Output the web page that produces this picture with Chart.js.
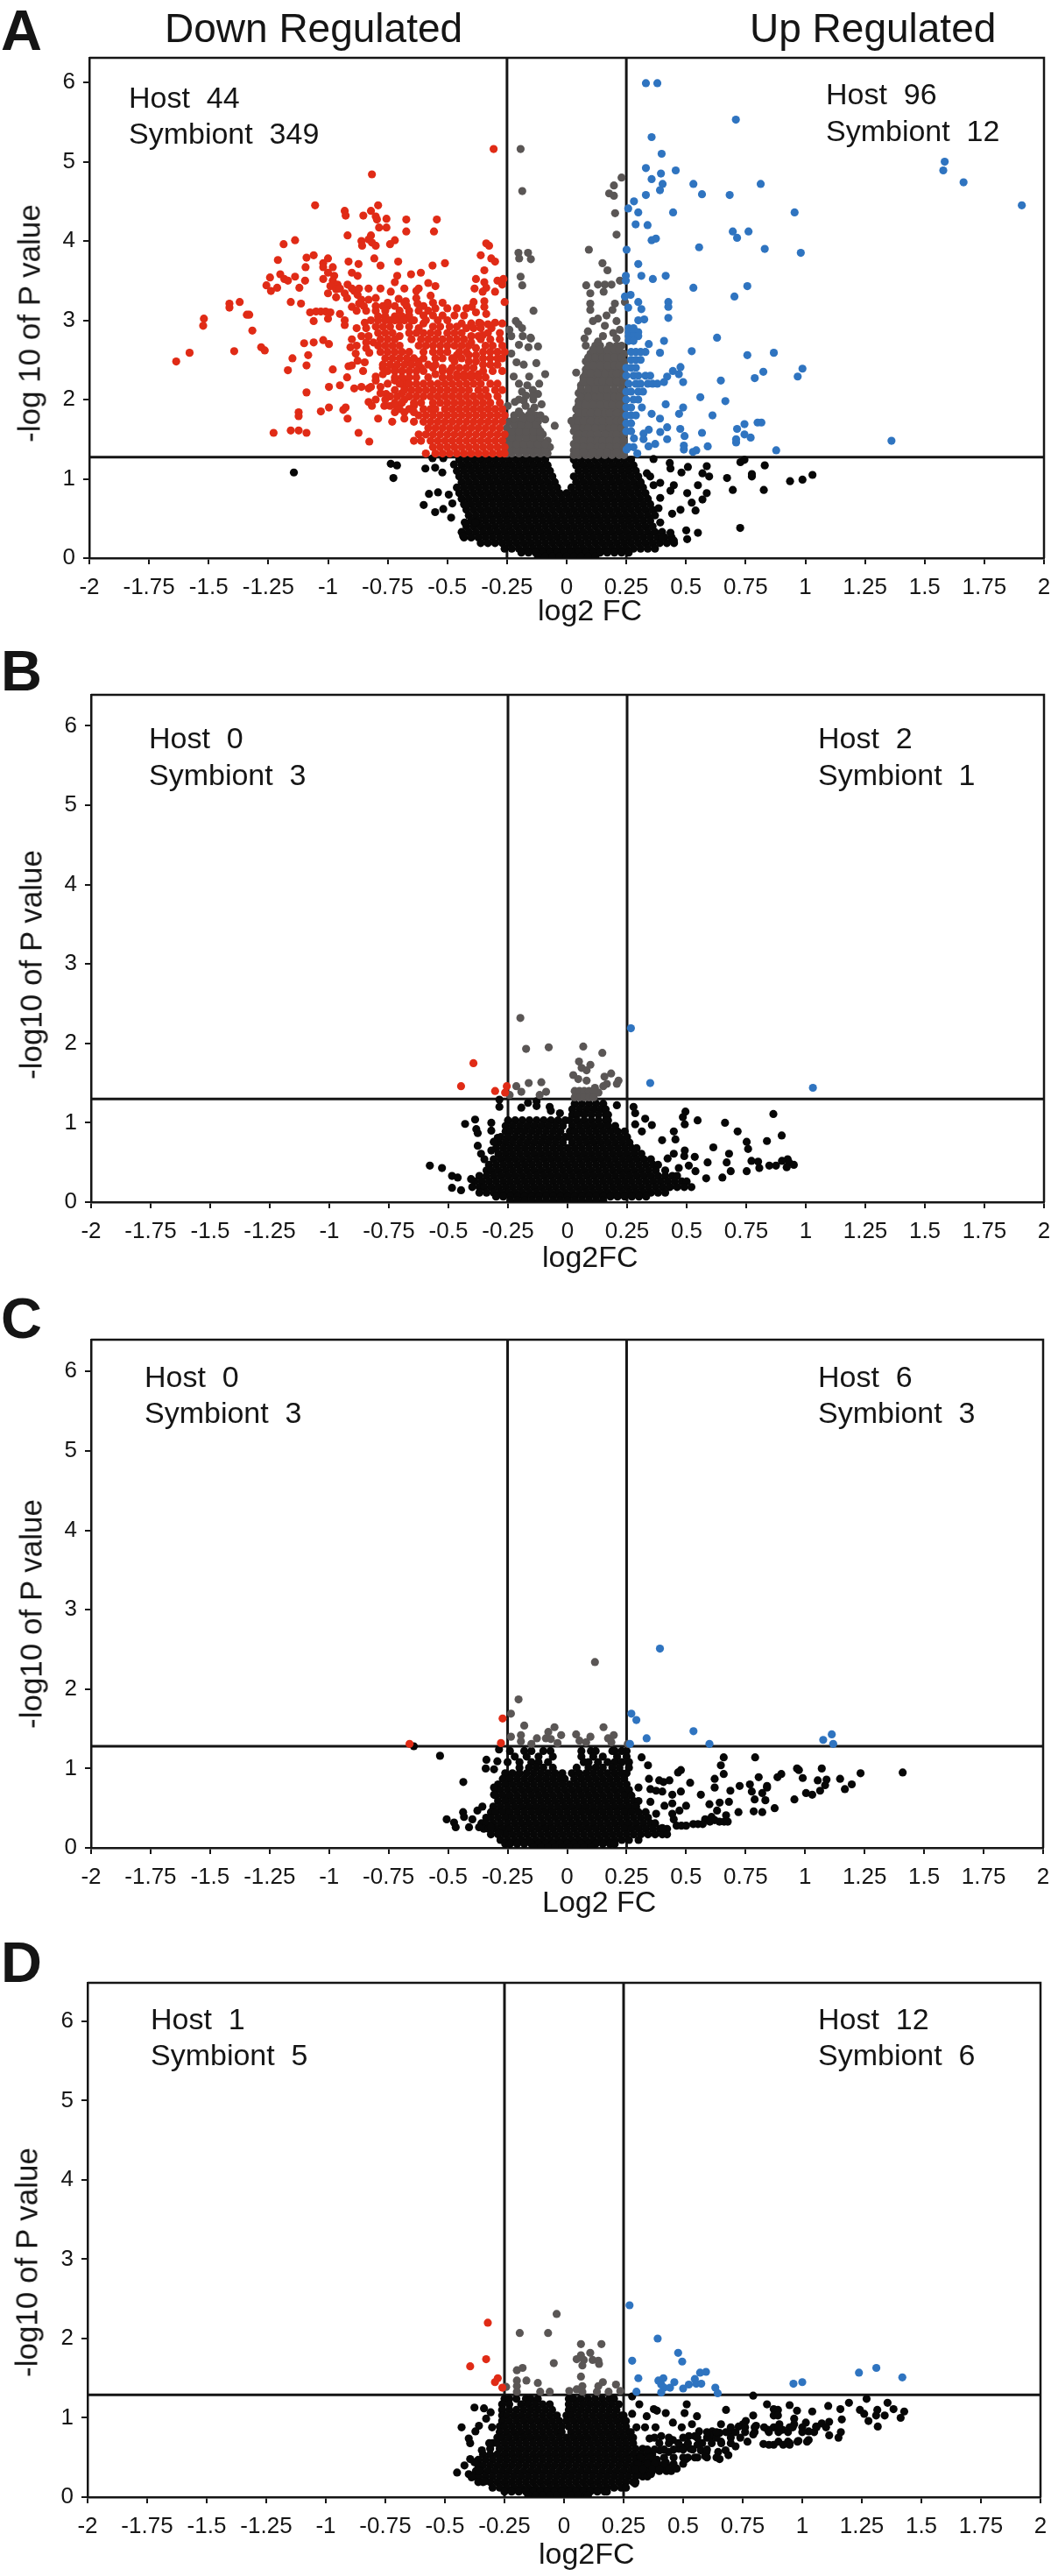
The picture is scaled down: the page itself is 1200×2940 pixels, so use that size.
<!DOCTYPE html>
<html lang="en">
<head>
<meta charset="UTF-8" />
<title>Volcano plots</title>
<script src="https://cdn.jsdelivr.net/npm/chart.js@4"></script>
<style>
  html, body { margin: 0; background: #fff; }
  #page { position: relative; width: 1200px; height: 2940px; overflow: hidden; font-family: "Liberation Sans", sans-serif; color: #151515; }
  #page canvas { position: absolute; left: 0; }
  .txt { position: absolute; line-height: 1; white-space: pre; }
</style>
</head>
<body>
<div id="page"></div>
<script>
// every row is [-log10 P, log2 FC, log2 FC, ...].
// the solid black/grey/red areas can't be read dot by dot, those rows are estimates.
const xTicks = [-2, -1.75, -1.5, -1.25, -1, -0.75, -0.5, -0.25, 0, 0.25, 0.5, 0.75, 1, 1.25, 1.5, 1.75, 2];
const yTicks = [0, 1, 2, 3, 4, 5, 6];
const foldCut = [-0.25, 0.25];

const aRed = [
[5.16,-.306],[4.84,-.816],[4.45,-1.054,-.79],[4.38,-.93,-.82],[4.32,-.852,-.926],[4.31,-.8],[4.28,-.755],[4.27,-.795,-.672,-.544],
[4.17,-.786,-.755],[4.12,-.672,-.556],[4.07,-.918,-.82],[4.02,-.83],[4.01,-.72,-1.138],[4,-.86],[3.98,-.816],[3.96,-.74,-1.186],[3.94,-.8,-.857,-.325],[3.97,-.337],
[3.82,-.36,-1.06],[3.79,-1.09],[3.78,-.316,-1,-.806],[3.76,-1.21],[3.74,-.3,-.914,-.706],[3.72,-1.02,-.51],[3.71,-.872],[3.69,-.78,-.562],[3.67,-1.094,-1.02,-.98],[3.63,-.345],
[3.6,-1,-.9,-.611],[3.58,-1.2,-.652],[3.56,-.974,-.876,-.71],[3.55,-1.138],[3.54,-1.243],[3.52,-1.183,-1.02,-.38,-.265],[3.5,-1.168,-1.096,-.98,-.29],[3.48,-.72,-.345],[3.47,-.58],
[3.45,-.96,-.27,-.918],[3.44,-1.258],[3.43,-.99,-.55],[3.41,-1.213,-1.12,-.337],[3.4,-.386],[3.39,-.966],[3.37,-1.239,-.89,-.63],[3.36,-.737,-.352,-.3],[3.34,-.93,-1],
[3.32,-.876],[3.31,-.57],[3.29,-.966],[3.28,-.92,-.8,-.63],[3.27,-.704],[3.26,-.86,-.83],[3.24,-.674,-.345],[3.23,-.26,-.39,-1.37,-1.156],[3.21,-.87,-.625,-1.413,-1.113],
[3.17,-.397,-.345,-.9],[3.16,-1.413],[3.11,-1.05,-1.03,-1.01],[3.1,-1.075,-.99,-.38],[3.08,-.95,-.337],[3.07,-1.34,-1.33],[3.02,-1.52,-1],[3,-.93,-.74,-.7,-.65],[2.99,-1.06],
[2.97,-.846,-.367,-.3],[2.95,-.33],[2.94,-.93],[2.93,-1.523],[2.9,-.315],[2.87,-1.317],[2.81,-.352],
[2.75,-1.02],[2.72,-1.06],[2.71,-1.1],[2.7,-.996],[2.66,-1.28,-.906],[2.62,-1.265],[2.61,-1.393],[2.59,-1.58,-.827],[2.58,-.884],[2.56,-1.083],[2.52,-1.149],[2.49,-.876],[2.48,-1.636],
[2.47,-.846],[2.43,-1.09,-.9],[2.42,-.914],[2.4,-.77],[2.38,-.98],[2.37,-1.168],[2.36,-.853],[2.29,-.8],[2.28,-.92],[2.18,-.95],[2.16,-.996,-.86],[2.14,-.89,-.83],[2.09,-1.09],
[2.07,-.756],[1.97,-.83],[1.92,-.816,-.764],[1.9,-.996,-.926,-.71],[1.87,-.936],[1.85,-1.03],[1.84,-1.123],[1.79,-1.123],[1.76,-.918,-.79,-.68],[1.72,-.731],[1.61,-1.156,-1.123],
[1.58,-1.228,-1.09,-.872],[1.47,-.827],
[3.4,-.95,-.9,-.87,-.83,-.78,-.68,-.62],[3.18,-.85,-.8,-.77,-.75,-.72,-.67,-.6],[3.12,-.88,-.84,-.8,-.76,-.7,-.66,-.62,-.58],
[3.22,-.75,-.68,-.56,-.52],[3.15,-.55,-.5,-.46,-.42],[3.06,-.66,-.6,-.56,-.52,-.47,-.43],[2.96,-.6,-.44,-.4,-.36,-.27],[2.9,-.88,-.84,-.62,-.42,-.39,-.36],[2.8,-.86,-.83,-.7,-.4,-.37],[2.72,-.84,-.81,-.4],[2.65,-.84,-.38],
[2.56,-.46,-.41,-.38],[2.48,-.47,-.41,-.38,-.66,-.62],[2.4,-.52,-.48,-.45,-.42,-.39,-.72,-.61,-.56],[2.32,-.77,-.55,-.46,-.43,-.4,-.37],[2.24,-.8,-.72,-.68],[2.16,-.78,-.68,-.82],[2.08,-.78,-.69],[2,-.8,-.76,-.68],[1.92,-.74,-.64],[1.84,-.72,-.68,-.64],
[3.05,-.79,-.76,-.72,-.69],
[3,-.82,-.79,-.76,-.72,-.68,-.64,-.59,-.54,-.5],
[2.92,-.8,-.77,-.74,-.7,-.66,-.56,-.53,-.49,-.46],
[2.84,-.79,-.76,-.73,-.66,-.63,-.6,-.57,-.54,-.5,-.47,-.44,-.33,-.28],
[2.76,-.9,-.78,-.75,-.72,-.65,-.61,-.58,-.55,-.52,-.49,-.46,-.43,-.36,-.32,-.28],
[2.68,-.88,-.79,-.76,-.73,-.7,-.62,-.59,-.56,-.53,-.5,-.47,-.44,-.41,-.34,-.31,-.27],
[2.6,-.78,-.75,-.72,-.69,-.66,-.6,-.56,-.53,-.5,-.45,-.42,-.35,-.32,-.29,-.26],
[2.52,-.76,-.73,-.7,-.67,-.64,-.6,-.55,-.52,-.48,-.44,-.35,-.32,-.29,-.27],
[2.44,-.77,-.74,-.71,-.68,-.65,-.62,-.58,-.55,-.35,-.32,-.29],
[2.36,-.75,-.72,-.69,-.66,-.63,-.6,-.52,-.49,-.35,-.31,-.27],
[2.28,-.72,-.69,-.66,-.63,-.58,-.52,-.49,-.46,-.43,-.4,-.37,-.34],
[2.2,-.75,-.7,-.66,-.63,-.6,-.57,-.54,-.51,-.48,-.45,-.42,-.39,-.36,-.32,-.29],
[2.12,-.72,-.68,-.65,-.62,-.59,-.56,-.53,-.5,-.47,-.44,-.41,-.37,-.34,-.3,-.27],
[2.04,-.74,-.71,-.66,-.63,-.6,-.57,-.54,-.51,-.48,-.45,-.42,-.39,-.36,-.33,-.29],
[1.96,-.72,-.69,-.64,-.61,-.56,-.53,-.5,-.47,-.44,-.41,-.38,-.35,-.32,-.28],
[1.88,-.7,-.66,-.6,-.57,-.55,-.51,-.48,-.45,-.42,-.39,-.36,-.33,-.3,-.27],
[1.8,-.62,-.59,-.56,-.53,-.5,-.47,-.44,-.41,-.38,-.35,-.32,-.29,-.26],
[1.72,-.64,-.6,-.57,-.54,-.51,-.48,-.45,-.42,-.39,-.36,-.33,-.3,-.27],
[1.64,-.58,-.55,-.52,-.49,-.46,-.43,-.4,-.37,-.34,-.31,-.28],
[1.56,-.62,-.59,-.56,-.53,-.5,-.47,-.44,-.41,-.38,-.35,-.32,-.29,-.26],
[1.48,-.64,-.61,-.57,-.54,-.51,-.48,-.45,-.42,-.39,-.36,-.33,-.3,-.27],
[1.4,-.56,-.53,-.5,-.47,-.44,-.41,-.38,-.35,-.32,-.29,-.26],
[1.32,-.59,-.55,-.52,-.49,-.46,-.43,-.4,-.37,-.34,-.31,-.28,-.26]
];
const aGrey = [
[5.16,-.193],[4.63,-.186],[3.85,-.202,-.162],[3.78,-.199],[3.77,-.15],[3.55,-.193],[3.44,-.186],[3.12,-.139],[2.99,-.213],[2.95,-.202],[2.9,-.187],[2.88,-.24],[2.8,-.232,-.184],[2.78,-.151],[2.77,-.15],
[2.69,-.2],[2.67,-.12],[2.66,-.16],[2.58,-.232],[2.47,-.21],[2.46,-.127],[2.44,-.18],[2.32,-.09],[2.29,-.222,-.157],[2.2,-.115,-.2],[2.18,-.165],[2.12,-.142],[2.1,-.187],[2.07,-.12],[1.99,-.18],
[1.97,-.217],[1.94,-.105],[1.92,-.247,-.172],[1.9,-.135],[1.75,-.09],[1.67,-.05],
[1.8,-.22,-.19,-.16,-.13,-.11],[1.72,-.24,-.2,-.17,-.14,-.12],[1.64,-.25,-.21,-.18,-.15,-.12],[1.56,-.24,-.22,-.19,-.16,-.13,-.1],
[1.48,-.25,-.22,-.2,-.17,-.14,-.11,-.08],[1.4,-.25,-.22,-.19,-.16,-.13,-.1,-.07],[1.32,-.25,-.23,-.2,-.17,-.14,-.11,-.08],
[1.36,-.24,-.21,-.18,-.15,-.12,-.09],[1.44,-.24,-.21,-.18,-.15,-.12,-.09],[1.52,-.23,-.2,-.17,-.14,-.11],[1.6,-.23,-.2,-.17,-.14,-.11],[1.68,-.22,-.19,-.16,-.13],[1.76,-.22,-.18,-.15],[1.85,-.2,-.15],[2,-.2,-.14],[2.05,-.17,-.14],
[4.8,.23],[4.7,.198],[4.6,.178],[4.57,.198],[4.35,.203],[4.08,.209],[3.89,.093],[3.72,.15],[3.63,.171],[3.5,.223],[3.45,.131,.16,.188],[3.44,.082],[3.36,.155],[3.34,.099],[3.23,.244],[3.21,.099,.202],
[3.13,.099,.192],[3.06,.167],[3.02,.131],[2.99,.11,.209],[2.93,.16],[2.88,.223],[2.86,.089],[2.84,.195],[2.8,.152],[2.77,.075,.209],[2.73,.131],
[2.68,.08,.12,.14,.18,.21,.23],[2.58,.1,.13,.15,.18,.21,.24],[2.48,.08,.1,.13,.16,.19,.22,.24],[2.38,.08,.1,.12,.15,.18,.2,.23],
[2.28,.07,.09,.11,.14,.17,.2,.22,.24],[2.18,.06,.09,.11,.14,.17,.2,.23],[2.08,.05,.08,.1,.13,.16,.19,.22,.24],[1.98,.05,.07,.1,.13,.16,.19,.21,.24],
[1.88,.04,.07,.09,.12,.15,.18,.2,.23],[1.78,.04,.06,.09,.12,.14,.17,.2,.23],[1.68,.03,.05,.08,.11,.14,.17,.19,.22,.24],[1.6,.03,.05,.08,.1,.13,.16,.19,.21,.24],
[1.52,.04,.07,.09,.12,.15,.18,.2,.23],[1.44,.03,.05,.08,.11,.14,.17,.19,.22],[1.36,.03,.06,.09,.12,.15,.18,.2,.23],[1.3,.03,.05,.08,.1,.13,.16,.19,.22,.24],
[2.63,.11,.14,.17,.2,.22],[2.53,.09,.12,.15,.17,.2,.23],[2.43,.09,.11,.14,.17,.2,.22],[2.33,.08,.1,.13,.16,.19,.21,.24],[2.23,.07,.1,.13,.15,.18,.21,.24],[2.13,.06,.09,.12,.15,.17,.2,.23],[2.03,.06,.09,.12,.14,.17,.2,.22],
[1.93,.05,.08,.11,.14,.17,.19,.22],[1.83,.05,.08,.1,.13,.16,.18,.21,.24],[1.73,.05,.07,.1,.13,.15,.18,.21,.23],[1.64,.04,.07,.09,.12,.15,.18,.2,.23],[1.56,.05,.08,.1,.13,.16,.19,.21,.24],[1.48,.05,.07,.1,.13,.15,.18,.21,.24],[1.4,.04,.07,.1,.13,.15,.18,.21,.24],[1.34,.04,.07,.11,.14,.17,.21],
[2.34,.04],[1.73,.02]
];
const aBlue = [
[5.99,.332,.38],[5.53,.709],[5.31,.356],[5.1,.398],[5,1.584],[4.92,.332],[4.89,.457,1.578],[4.85,.395],[4.78,.356],[4.74,1.663],[4.72,.402,.531,.813],[4.64,.391],[4.59,.567],[4.58,.332,.683],[4.5,.282],
[4.45,1.907],[4.41,.258],[4.36,.3,.446,.955],[4.21,.289],[4.2,.339],[4.12,.696,.762],[4.04,.714],[4.03,.374],[4.01,.356],[3.92,.555],[3.9,.83],[3.89,.251],[3.85,.981],[3.71,.3],[3.56,.248,.313,.415],
[3.52,.361],[3.5,.248],[3.43,.757],[3.41,.531],[3.32,.268],[3.3,.703,.244],[3.23,.3,.426],[3.17,.426],[3.16,.258],[3.14,.313],[3.03,.426],[3.01,.325],[3,.3],
[2.9,.26,.28],[2.85,.26,.28,.3],[2.8,.26,.28,.3],[2.78,.63],[2.74,.408,.26,.28],[2.7,.344],[2.61,.524],[2.59,.391,.868],[2.56,.757],[2.39,.988],[2.41,.477],[2.36,.445],[2.35,.824],
[2.32,.47],[2.29,.421,.968],[2.27,.788],[2.24,.646],[2.22,.408,.488],[2.03,.56],[1.98,.665],[1.94,.415],[1.9,.488,.315],[1.82,.471,.356],[1.8,.611],[1.76,.391],[1.71,.816,.8],[1.69,.745],
[1.65,.421],[1.63,.714,.476],[1.62,.344],[1.59,.392],[1.58,.567],[1.57,.322],[1.56,.745],[1.54,.494],[1.52,.771],[1.51,.282],[1.5,.322,.421,.71],[1.48,1.361],[1.46,.71],[1.44,.371],[1.42,.491],
[1.41,.591,.343],[1.37,.491,.251],[1.36,.543,.878],[1.34,.529],[1.32,.296],
[2.6,.27,.29,.31,.33],[2.5,.27,.29,.31],[2.4,.25,.27,.29],[2.3,.25,.28,.3,.33,.35],[2.2,.26,.29,.31,.34,.36,.38],[2.1,.25,.27,.3,.32],[2,.25,.28,.3],[1.9,.25,.27],[1.8,.25,.27,.29],[1.7,.25,.27],[1.6,.25,.27],[1.4,.26,.28]
];
const aBlack = [
[1.24,-.45,-.42,-.39,-.36,-.33,-.3,-.27,-.24,-.21,-.18,-.15,-.12,-.09,.03,.06,.09,.12,.15,.18,.21,.24,.27],
[1.17,-.44,-.41,-.38,-.35,-.32,-.29,-.26,-.23,-.2,-.17,-.14,-.11,-.08,.04,.07,.1,.13,.16,.19,.22,.25,.28],
[1.1,-.46,-.43,-.4,-.37,-.34,-.31,-.28,-.25,-.22,-.19,-.16,-.13,-.1,-.07,.05,.08,.11,.14,.17,.2,.23,.26,.29],
[1.03,-.45,-.42,-.39,-.36,-.33,-.3,-.27,-.24,-.21,-.18,-.15,-.12,-.09,-.06,.03,.06,.09,.12,.15,.18,.21,.24,.27,.3],
[.96,-.44,-.41,-.38,-.35,-.32,-.29,-.26,-.23,-.2,-.17,-.14,-.11,-.08,-.05,.04,.07,.1,.13,.16,.19,.22,.25,.28,.31],
[.89,-.46,-.43,-.4,-.37,-.34,-.31,-.28,-.25,-.22,-.19,-.16,-.13,-.1,-.07,-.04,.02,.05,.08,.11,.14,.17,.2,.23,.26,.29,.32],
[.82,-.45,-.42,-.39,-.36,-.33,-.3,-.27,-.24,-.21,-.18,-.15,-.12,-.09,-.06,-.03,0,.03,.06,.09,.12,.15,.18,.21,.24,.27,.3,.33],
[.75,-.44,-.41,-.38,-.35,-.32,-.29,-.26,-.23,-.2,-.17,-.14,-.11,-.08,-.05,-.02,.01,.04,.07,.1,.13,.16,.19,.22,.25,.28,.31,.34],
[.68,-.43,-.4,-.37,-.34,-.31,-.28,-.25,-.22,-.19,-.16,-.13,-.1,-.07,-.04,-.01,.02,.05,.08,.11,.14,.17,.2,.23,.26,.29,.32,.35],
[.61,-.42,-.39,-.36,-.33,-.3,-.27,-.24,-.21,-.18,-.15,-.12,-.09,-.06,-.03,0,.03,.06,.09,.12,.15,.18,.21,.24,.27,.3,.33,.36],
[.54,-.41,-.38,-.35,-.32,-.29,-.26,-.23,-.2,-.17,-.14,-.11,-.08,-.05,-.02,.01,.04,.07,.1,.13,.16,.19,.22,.25,.28,.31,.34,.37],
[.47,-.4,-.37,-.34,-.31,-.28,-.25,-.22,-.19,-.16,-.13,-.1,-.07,-.04,-.01,.02,.05,.08,.11,.14,.17,.2,.23,.26,.29,.32,.35],
[.4,-.42,-.39,-.36,-.33,-.3,-.27,-.24,-.21,-.18,-.15,-.12,-.09,-.06,-.03,0,.03,.06,.09,.12,.15,.18,.21,.24,.27,.3,.33,.36],
[.33,-.44,-.41,-.38,-.35,-.32,-.29,-.26,-.23,-.2,-.17,-.14,-.11,-.08,-.05,-.02,.01,.04,.07,.1,.13,.16,.19,.22,.25,.28,.31,.34,.37,.4],
[.26,-.43,-.4,-.37,-.34,-.31,-.28,-.25,-.22,-.19,-.16,-.13,-.1,-.07,-.04,-.01,.02,.05,.08,.11,.14,.17,.2,.23,.26,.29,.32,.35,.38,.41,.44],
[.19,-.36,-.33,-.3,-.27,-.24,-.21,-.18,-.15,-.12,-.09,-.06,-.03,0,.03,.06,.09,.12,.15,.18,.21,.24,.27,.3,.33,.36,.39,.42,.45],
[.12,-.26,-.23,-.2,-.17,-.14,-.11,-.08,-.05,-.02,.01,.04,.07,.1,.13,.16,.19,.22,.25,.28,.31,.34,.37],
[.07,-.19,-.16,-.13,-.1,-.07,-.04,-.01,.02,.05,.08,.11,.14,.17,.2,.23,.26],
[.02,-.12,-.09,-.06,-.03,0,.03,.06,.09,.12],
[1.08,-1.143,-.521,.481],[1.19,-.737],[1.17,-.711,.83],[1.01,-.726,.672],[1.13,-.592,.435],[1.14,-.551],[.81,-.577],[.83,-.539],[.8,-.494],[.67,-.599,-.427],[.58,-.551],[.62,-.517],[.51,-.484],[.69,-.479],
[.28,-.434],[.45,-.427,-.382,.392],[1.26,-.562,-.517],[1.18,-.472],[1.25,.364],[1.2,.432],[1.15,.508],[1.16,.587],[1.07,.569,.336],[1.03,.597,.776,.35],[1.21,.728],[1.24,.745],[1.06,.776],[.97,.936],
[.99,.988],[1.05,1.03],[.86,.826,.696],[.82,.587,.505],[.92,.55,.449,.364],[.85,.435],[.95,.392],[.74,.569],[.7,.524],[.76,.392],[.6,.54],[.61,.477],[.56,.442],[.63,.385],[.38,.727],[.32,.55,.435],
[.35,.501],[.24,.505],[.22,.449],[.94,.308],[.26,.4]
];

const bRed = [[1.75,-.395],[1.46,-.447,-.255],[1.4,-.304],[1.38,-.262]];
const bGrey = [
[2.32,-.198],[1.93,-.174],[1.95,-.079],[1.96,.066],[1.88,.146],[1.77,.048],[1.73,.096],[1.69,.059],[1.66,.08],[1.62,.183],[1.58,.155],[1.6,.024],[1.55,.045],[1.53,.08,.214],[1.49,.207,.165],
[1.46,.15,-.215],[1.44,.115],[1.38,.13],[1.39,-.194,-.09],[1.5,-.163],[1.51,-.11],[1.35,-.117,-.243],[1.4,.03,.05,.07,.09,.11],[1.32,.03,.05,.07,.09,.11]
];
const bBlue = [[2.19,.266],[1.5,.347],[1.44,1.03]];
const bBlack = [
[1.24,.03,.06,.09,.12,.15],[1.17,.02,.05,.08,.11,.14,.16],[1.1,.02,.04,.07,.1,.13,.16,.17],
[1.03,-.25,-.22,-.19,-.16,-.13,-.1,-.07,-.04,-.01,.01,.04,.07,.1,.13,.16,.17],
[.96,-.26,-.23,-.2,-.17,-.14,-.11,-.08,-.05,-.02,.02,.05,.08,.11,.14,.17,.2],
[.89,-.26,-.24,-.21,-.18,-.15,-.12,-.09,-.06,-.03,.01,.03,.06,.09,.12,.15,.18,.21,.24],
[.82,-.28,-.25,-.22,-.19,-.16,-.13,-.1,-.07,-.04,-.01,.01,.04,.07,.1,.13,.16,.19,.22,.25],
[.75,-.29,-.26,-.23,-.2,-.17,-.14,-.11,-.08,-.05,-.02,.02,.05,.08,.11,.14,.17,.2,.23,.26],
[.68,-.3,-.27,-.24,-.21,-.18,-.15,-.12,-.09,-.06,-.03,0,.03,.06,.09,.12,.15,.18,.21,.24,.27,.29],
[.61,-.29,-.26,-.23,-.2,-.17,-.14,-.11,-.08,-.05,-.02,.01,.04,.07,.1,.13,.16,.19,.22,.25,.28,.31],
[.54,-.31,-.28,-.25,-.22,-.19,-.16,-.13,-.1,-.07,-.04,-.01,.02,.05,.08,.11,.14,.17,.2,.23,.26,.29,.32,.35],
[.47,-.33,-.3,-.27,-.24,-.21,-.18,-.15,-.12,-.09,-.06,-.03,0,.03,.06,.09,.12,.15,.18,.21,.24,.27,.3,.33,.36,.38],
[.4,-.34,-.32,-.29,-.26,-.23,-.2,-.17,-.14,-.11,-.08,-.05,-.02,.01,.04,.07,.1,.13,.16,.19,.22,.25,.28,.31,.34,.37,.41],
[.33,-.37,-.34,-.31,-.28,-.25,-.22,-.19,-.16,-.13,-.1,-.07,-.04,-.01,.02,.05,.08,.11,.14,.17,.2,.23,.26,.29,.32,.35,.38,.41,.44,.46],
[.26,-.39,-.36,-.33,-.3,-.27,-.24,-.21,-.18,-.15,-.12,-.09,-.06,-.03,0,.03,.06,.09,.12,.15,.18,.21,.24,.27,.3,.33,.36,.39,.42,.45,.48,.5],
[.19,-.4,-.37,-.35,-.32,-.29,-.26,-.23,-.2,-.17,-.14,-.11,-.08,-.05,-.02,.01,.04,.07,.1,.13,.16,.19,.22,.25,.28,.31,.34,.37,.4,.43,.46,.49,.52],
[.12,-.37,-.34,-.31,-.28,-.25,-.22,-.19,-.16,-.13,-.1,-.07,-.04,-.01,.02,.05,.08,.11,.14,.17,.2,.23,.26,.29,.32,.35,.38,.41],
[.07,-.3,-.27,-.24,-.21,-.18,-.15,-.12,-.09,-.06,-.03,0,.03,.06,.09,.12,.15,.18,.21,.24,.27,.3,.33],
[.02,-.24,-.21,-.18,-.15,-.12,-.09,-.06,-.03,0,.03,.06,.09,.12,.15],
[.46,-.578,.509,.847,.875],[.43,-.527,.805],[.33,-.485],[.31,-.461,.65],[.18,-.485],[.15,-.447],[.29,-.405],[.985,-.43],[1.04,-.388],[.92,-.383],[.87,-.377],[.71,-.377],[.61,-.363,.678,.446],[.54,-.349,.924],
[1,-.32],[.9,-.32],[.81,-.293],[.76,-.31],[.65,-.32,.492],[1.2,-.286,.277],[1.29,-.286],[1.19,-.194],[1.25,-.166],[1.27,-.13],[1.21,-.13],[1.2,-.075],[1.12,-.032,.284],[1.15,-.07],
[1.22,.207],[1.05,.326],[.97,.354],[.98,.284,.492],[.89,.312,.446,.714],[.78,.397],[.79,.453],[1.14,.495],[1.07,.484],[1.03,.546],[1,.661],[1.11,.864],[.84,.899],[.77,.837],[.76,.752],[.67,.758],[.69,.612],
[.5,.668,.588,.93],[.39,.685,.752,.537],[.52,.772],[.51,.8],[.57,.534],[.58,.49],[.55,.42],[.3,.582],[.43,.467],[.52,.9],[.44,.92],[.47,.95]
];

const cRed = [[1.31,-.662],[1.63,-.271],[1.32,-.278]];
const cGrey = [
[2.34,.117],[1.87,-.204],[1.69,-.236],[1.54,-.18],[1.52,-.053,.153],[1.4,-.236],[1.42,-.194,-.025,.196],[1.34,-.194],[1.31,-.15,.255],[1.38,-.127,-.089,.172],[1.46,-.079],[1.37,-.068],[1.32,-.04],
[1.43,.038],[1.35,.052],[1.33,.08,.186],[1.4,.098]
];
const cBlue = [[2.51,.39],[1.69,.27],[1.61,.291],[1.38,.334],[1.31,.264,.598,1.118],[1.47,.531],[1.36,1.076],[1.43,1.112]];
const cBlack = [
[1.22,-.24,-.18,-.15,-.1,-.07,.06,.1,.12,.19,.2,.23,.25],[1.15,-.22,-.17,-.12,-.06,.06,.11,.15,.21,.25],[1.08,-.25,-.2,-.15,-.12,-.08,.07,.09,.13,.17,.2,.23,.26],[1.01,-.2,-.16,-.13,-.1,-.06,.04,.09,.12,.15,.19,.22,.26],
[.94,-.26,-.23,-.2,-.17,-.14,-.11,-.08,-.05,-.02,.02,.05,.08,.11,.14,.17,.2,.23,.25],
[.87,-.27,-.24,-.21,-.18,-.15,-.12,-.09,-.06,-.03,-.01,.03,.06,.09,.12,.15,.18,.21,.24],
[.8,-.29,-.26,-.23,-.2,-.17,-.14,-.11,-.08,-.05,-.02,.01,.04,.07,.1,.13,.16,.19,.22,.25],
[.73,-.3,-.28,-.25,-.22,-.19,-.16,-.13,-.1,-.07,-.04,-.01,.02,.05,.08,.11,.14,.17,.2,.23,.26],
[.66,-.3,-.27,-.24,-.21,-.18,-.15,-.12,-.09,-.06,-.03,0,.03,.06,.09,.12,.15,.18,.21,.24,.27],
[.59,-.29,-.26,-.23,-.2,-.17,-.14,-.11,-.08,-.05,-.02,.01,.04,.07,.1,.13,.16,.19,.22,.25,.28,.3],
[.52,-.31,-.28,-.25,-.22,-.19,-.16,-.13,-.1,-.07,-.04,-.01,.02,.05,.08,.11,.14,.17,.2,.23,.26,.29],
[.45,-.32,-.3,-.27,-.24,-.21,-.18,-.15,-.12,-.09,-.06,-.03,0,.03,.06,.09,.12,.15,.18,.21,.24,.27,.3,.33],
[.38,-.34,-.32,-.29,-.26,-.23,-.2,-.17,-.14,-.11,-.08,-.05,-.02,.01,.04,.07,.1,.13,.16,.19,.22,.25,.28,.31,.34],
[.31,-.36,-.34,-.31,-.28,-.25,-.22,-.19,-.16,-.13,-.1,-.07,-.04,-.01,.02,.05,.08,.11,.14,.17,.2,.23,.26,.29,.32,.35,.37],
[.24,-.35,-.33,-.3,-.27,-.24,-.21,-.18,-.15,-.12,-.09,-.06,-.03,0,.03,.06,.09,.12,.15,.18,.21,.24,.27,.3,.33,.36,.39,.42],
[.17,-.32,-.29,-.26,-.23,-.2,-.17,-.14,-.11,-.08,-.05,-.02,.01,.04,.07,.1,.13,.16,.19,.22,.25,.28,.31,.34,.37,.4,.42],
[.1,-.28,-.25,-.22,-.19,-.16,-.13,-.1,-.07,-.04,-.01,.02,.05,.08,.11,.14,.17,.2,.23,.26,.3],
[.05,-.26,-.24,-.21,-.18,-.15,-.12,-.09,-.06,-.03,0,.03,.06,.09,.12,.15,.18,.2],
[.01,-.14,-.11,-.08,-.05,-.02,.01,.04,.07,.1],
[1.16,-.534],[.83,-.436,.405],[1.11,-.339],[1.09,-.293],[1,-.342,.966,1.07],[.99,-.307],[1.24,-.286],[.76,-.307,.62,.84],[.67,-.307,.442,.562,1.03],[.36,-.506,-.398,.448,.58],[.32,-.475],[.26,-.468,-.412,-.37,-.32],
[.45,-.437,.72,.82],[.39,-.433,.607],[.47,-.377,.472,.63],[.52,-.356],[.19,-.286],[1.28,-.644],
[1.14,.313,.658,.79],[1.04,.34,.646],[.87,.344,.62,1.147],[.98,.478,.974],[.95,.466,1.41],[.93,.658,.9],[.82,.517],[.85,.387,.43,1.053],[.74,.35,1.167],[.72,.374,.686],[.71,.4,.478,.776],[.78,.725,.84],[.8,.768,1.196],
[.89,.805,.884],[.69,.82],[.61,.788,.955],[.6,.833],[.88,.99],[.86,1.09],[.79,1.084],[.72,1.063],[.94,1.233],[.69,1.004],[.5,.872],[.46,.784],[.58,.68],[.57,.641],[.55,.598],[.53,.5,.409],[.56,.442],[.43,.374,.442],
[.28,.46,.48,.5],[.3,.53,.55,.57],[.33,.6,.64,.66],[.35,.62],[.41,.668],[.33,.675],[.58,.35],[.76,.3],[.25,.4]
];

const dRed = [[2.2,-.32],[1.74,-.327],[1.65,-.394],[1.5,-.278],[1.45,-.29],[1.38,-.259]];
const dGrey = [
[2.31,-.031],[2.07,-.186,-.067],[1.93,.071,.157],[1.82,.11],[1.79,.071],[1.74,.053],[1.73,.083,.12],[1.72,.144],[1.68,.147],[1.66,.077],[1.69,-.043],[1.63,-.174],[1.6,-.198],[1.52,.071],[1.47,-.198,-.158],
[1.4,-.198,.077,.144],[1.44,-.11],[1.39,-.243],[1.33,-.198,-.1,-.06,.077,.138,.187],[1.34,.022,.236],[1.36,.053],[1.45,.163],[1.42,.218]
];
const dBlue = [
[2.42,.275],[2,.393],[1.82,.479],[1.72,.286],[1.71,.496],[1.5,.312,.417],[1.33,.304],[1.47,.396],[1.42,.408,.524],[1.38,.42,.445,.635],[1.32,.408],[1.45,.463],[1.37,.5],[1.49,.549],[1.43,.555,.576],[1.57,.571],
[1.58,.596],[1.31,.645],[1.43,.963],[1.45,1],[1.57,1.238],[1.63,1.311],[1.51,1.42]
];
const dBlack = [
[1.24,-.25,-.23,-.2,-.16,-.14,-.11,.02,.04,.07,.1,.13,.16,.19,.21],
[1.17,-.26,-.23,-.18,-.15,-.12,-.09,-.06,.02,.05,.08,.11,.14,.17,.2,.23],
[1.1,-.26,-.23,-.2,-.17,-.14,-.11,-.08,-.05,.02,.04,.07,.1,.13,.16,.19,.22],
[1.03,-.26,-.24,-.21,-.18,-.15,-.12,-.09,-.06,-.03,.01,.03,.06,.09,.12,.15,.18,.21,.24,.25],
[.96,-.26,-.23,-.2,-.17,-.14,-.11,-.08,-.05,-.02,.01,.04,.07,.1,.13,.16,.19,.22,.25,.26],
[.89,-.27,-.25,-.22,-.19,-.16,-.13,-.1,-.07,-.04,-.01,.02,.05,.08,.11,.14,.17,.2,.23,.26],
[.82,-.27,-.24,-.21,-.18,-.15,-.12,-.09,-.06,-.03,-.01,.03,.06,.09,.12,.15,.18,.21,.24,.27,.28],
[.75,-.28,-.26,-.23,-.2,-.17,-.14,-.11,-.08,-.05,-.02,.01,.04,.07,.1,.13,.16,.19,.22,.25,.28,.29],
[.68,-.3,-.28,-.25,-.22,-.19,-.16,-.13,-.1,-.07,-.04,-.01,.02,.05,.08,.11,.14,.17,.2,.23,.26,.29],
[.61,-.31,-.27,-.24,-.21,-.18,-.15,-.12,-.09,-.06,-.03,0,.03,.06,.09,.12,.15,.18,.21,.24,.27,.3,.33],
[.54,-.34,-.31,-.28,-.25,-.22,-.19,-.16,-.13,-.1,-.07,-.04,-.01,.02,.05,.08,.11,.14,.17,.2,.23,.26,.29,.32,.35,.37],
[.47,-.36,-.33,-.3,-.27,-.24,-.21,-.18,-.15,-.12,-.09,-.06,-.03,0,.03,.06,.09,.12,.15,.18,.21,.24,.27,.3,.33,.36,.39],
[.4,-.36,-.34,-.31,-.28,-.25,-.22,-.19,-.16,-.13,-.1,-.07,-.04,-.01,.02,.05,.08,.11,.14,.17,.2,.23,.26,.29,.32,.35,.38,.41,.43],
[.33,-.37,-.35,-.32,-.29,-.26,-.23,-.2,-.17,-.14,-.11,-.08,-.05,-.02,.01,.04,.07,.1,.13,.16,.19,.22,.25,.28,.31,.34,.37,.4,.43,.45],
[.26,-.38,-.36,-.33,-.3,-.27,-.24,-.21,-.18,-.15,-.12,-.09,-.06,-.03,0,.03,.06,.09,.12,.15,.18,.21,.24,.27,.3,.33,.35],
[.19,-.36,-.34,-.31,-.28,-.25,-.22,-.19,-.16,-.13,-.1,-.07,-.04,-.01,.02,.05,.08,.11,.14,.17,.2,.23,.26,.29,.3],
[.12,-.3,-.27,-.24,-.21,-.18,-.15,-.12,-.09,-.06,-.03,0,.03,.06,.09,.12,.15,.18,.21,.24,.26],
[.07,-.25,-.22,-.19,-.16,-.13,-.1,-.07,-.04,-.01,.02,.05,.08,.11,.14,.17,.18],
[.02,-.15,-.12,-.09,-.06,-.03,0,.03,.06,.09,.1],
[1.13,-.376],[1.12,-.336],[1.07,-.308],[.99,-.327,.966],[.88,-.43,-.302,.494,.947,.88,.384,.34,.304],[.9,-.357,.806],[.83,-.372,.696,.622,.567,1.027],[.74,-.4,.359],[.68,-.394,-.314,.947],[.59,-.345,.402,.574,.678],[.48,-.394,.512,.653,.377],[.4,-.418,.396],
[.44,-.376,.427],[.31,-.449],[.29,-.4,.365],[.25,-.388],[.33,-.357],[.2,-.333],
[1.27,.286],[1.17,.316,.515],[1.11,.377,.88,1.16,1.383],[1.09,.39,.978],[1.06,.427,.506],[1.02,.347,.558],[1.05,.286,1.26],[1.1,.68,.898,1.242,1.315],[1.28,.794],[1.03,.794,.88,.898,1.346,1.31],[1.17,.852],[1.16,.947],
[1.08,1.042,1.428],[1.15,1.109],[.98,1.166],[1.19,1.196,1.358],[1.24,1.27],[.96,1.278,.763],[.89,1.317],[1,1.413],
[.82,1.162],[.75,1.152],[.78,1.113],[.95,1.113],[.93,1.082],[.89,1.058,.733],[.94,1.015,.457],[.72,1.027],[.71,.984],[.92,.966,.904,.751,.659,.537],[.85,.917,.855],[.66,.88,.947],[.67,.837],[.79,.794],[.81,.653],[.7,.659,.77],[.64,.72],
[.77,.549,.524,.408,.622],[.61,.482,.53],[.66,.56],[.57,.598,.647,.439],[.5,.549],[.52,.592],[.53,.69],[.55,.353],[.36,.473],[.35,.427],[.17,.298],[.28,.31],[.63,.5],[.72,.457],
[.6,.35,.38,.42,.46,.5,.54,.6],[.68,.4,.44,.48,.52,.58,.62,.66,.7],[.75,.38,.44,.5,.56,.6,.64,.7,.74],[.82,.6,.64,.68,.72,.76,.8,.86,.9,.94,1,1.05],[.88,.7,.76,.8,.84,.9,.96,1,1.06,1.1],
[.5,.32,.36,.42,.46,.5,.52,.56,.6,.64],[.42,.31,.35,.38,.42,.46,.5],[.35,.3,.33,.37,.4,.44],[.7,.9,.94,.98,1.02],[.66,.86,.92]
];

const panels = [
  { red: aRed, grey: aGrey, blue: aBlue, black: aBlack, cut: 1.274, yMax: 6.31, top: 66, bottom: 637, left: 102, right: 1192,
    yTitle: '-log 10 of P value', yTitleAt: [33, 369], xTitle: 'log2 FC', xTitleAt: [614, 708],
    letter: 'A', letterAt: [1, 57], notes: [['Host  44', 147, 123], ['Symbiont  349', 147, 164], ['Host  96', 943, 119], ['Symbiont  12', 943, 161]] },
  { red: bRed, grey: bGrey, blue: bBlue, black: bBlack, cut: 1.3, yMax: 6.39, top: 793, bottom: 1372, left: 104, right: 1192,
    yTitle: '-log10 of P value', yTitleAt: [35, 1101], xTitle: 'log2FC', xTitleAt: [619, 1446],
    letter: 'B', letterAt: [1, 788], notes: [['Host  0', 170, 854], ['Symbiont  3', 170, 896], ['Host  2', 934, 854], ['Symbiont  1', 934, 896]] },
  { red: cRed, grey: cGrey, blue: cBlue, black: cBlack, cut: 1.28, yMax: 6.4, top: 1529, bottom: 2109, left: 104, right: 1191,
    yTitle: '-log10 of P value', yTitleAt: [35, 1842], xTitle: 'Log2 FC', xTitleAt: [619, 2182],
    letter: 'C', letterAt: [1, 1527], notes: [['Host  0', 165, 1583], ['Symbiont  3', 165, 1624], ['Host  6', 934, 1583], ['Symbiont  3', 934, 1624]] },
  { red: dRed, grey: dGrey, blue: dBlue, black: dBlack, cut: 1.29, yMax: 6.486, top: 2263, bottom: 2850, left: 100, right: 1188,
    yTitle: '-log10 of P value', yTitleAt: [30, 2582], xTitle: 'log2FC', xTitleAt: [615, 2926],
    letter: 'D', letterAt: [1, 2262], notes: [['Host  1', 172, 2316], ['Symbiont  5', 172, 2357], ['Host  12', 934, 2316], ['Symbiont  6', 934, 2357]] }
];

const page = document.getElementById('page');
const INK = '#151515';

function fromRows(rows) {
  const out = [];
  rows.forEach(r => r.slice(1).forEach(x => out.push({ x: x, y: r[0] })));
  return out;
}

function addText(text, x, baseline, size, weight) {
  const d = document.createElement('div');
  d.className = 'txt';
  d.textContent = text;
  d.style.left = x + 'px';
  d.style.top = (baseline - 0.8465 * size) + 'px';
  d.style.fontSize = size + 'px';
  if (weight) d.style.fontWeight = weight;
  page.appendChild(d);
}

function addRotated(text, cx, cy, size) {
  const d = document.createElement('div');
  d.className = 'txt';
  d.textContent = text;
  d.style.left = cx + 'px';
  d.style.top = cy + 'px';
  d.style.fontSize = size + 'px';
  d.style.transform = 'translate(-50%,-50%) rotate(-90deg)';
  page.appendChild(d);
}

function dots(label, rows, color) {
  return { label: label, data: fromRows(rows), backgroundColor: color, borderWidth: 0, pointRadius: 4.6, pointHoverRadius: 4.6 };
}

function rule(label, points, width) {
  return { type: 'line', label: label, data: points, borderColor: INK, borderWidth: width, pointRadius: 0, fill: false, tension: 0, clip: false, parsing: false };
}

// no extra room for the outer tick labels, the plot box has to sit on exact pixels
function noPadding(s) {
  s.paddingLeft = 0; s.paddingRight = 0; s.paddingTop = 0; s.paddingBottom = 0;
}

panels.forEach(p => {
  const padTop = 12, axisH = 70;
  const canvas = document.createElement('canvas');
  canvas.width = 1200;
  canvas.height = p.bottom - p.top + padTop + axisH;
  canvas.style.top = (p.top - padTop) + 'px';
  page.appendChild(canvas);

  new Chart(canvas, {
    type: 'scatter',
    data: {
      datasets: [
        dots('Up', p.blue, '#2f74c0'),
        dots('Down', p.red, '#e02b16'),
        dots('Within fold cut', p.grey, '#5a5655'),
        dots('Not significant', p.black, '#070707'),
        rule('log2 FC cut low', [{ x: foldCut[0], y: 0 }, { x: foldCut[0], y: p.yMax }], 3),
        rule('log2 FC cut high', [{ x: foldCut[1], y: 0 }, { x: foldCut[1], y: p.yMax }], 3),
        rule('P cut', [{ x: -2, y: p.cut }, { x: 2, y: p.cut }], 3),
        rule('Frame', [{ x: -2, y: p.yMax }, { x: 2, y: p.yMax }, { x: 2, y: 0 }], 2.5)
      ]
    },
    options: {
      responsive: false,
      animation: false,
      events: [],
      layout: { padding: { top: padTop, right: 1200 - p.right, left: 0, bottom: 0 } },
      plugins: { legend: { display: false }, tooltip: { enabled: false } },
      scales: {
        x: {
          type: 'linear', min: -2, max: 2,
          afterFit: s => { s.height = axisH; noPadding(s); },
          afterBuildTicks: s => { s.ticks = xTicks.map(v => ({ value: v })); },
          border: { color: INK, width: 2.5 },
          grid: { drawOnChartArea: false, tickLength: 7, color: INK, lineWidth: 2 },
          ticks: { autoSkip: false, maxRotation: 0, minRotation: 0, padding: 11, color: INK, font: { family: 'Liberation Sans', size: 26 }, callback: v => String(v) }
        },
        y: {
          type: 'linear', min: 0, max: p.yMax,
          afterFit: s => { s.width = p.left; noPadding(s); },
          afterBuildTicks: s => { s.ticks = yTicks.map(v => ({ value: v })); },
          border: { color: INK, width: 2.5 },
          grid: { drawOnChartArea: false, tickLength: 7, color: INK, lineWidth: 2 },
          ticks: { padding: 9, color: INK, font: { family: 'Liberation Sans', size: 26 }, callback: v => String(v) }
        }
      }
    }
  });

  addText(p.letter, p.letterAt[0], p.letterAt[1], 65, 'bold');
  p.notes.forEach(n => addText(n[0], n[1], n[2], 34));
  addText(p.xTitle, p.xTitleAt[0], p.xTitleAt[1], 34);
  addRotated(p.yTitle, p.yTitleAt[0], p.yTitleAt[1], 35);
});

addText('Down Regulated', 188, 48, 46);
addText('Up Regulated', 856, 48, 46);
</script>
</body>
</html>
